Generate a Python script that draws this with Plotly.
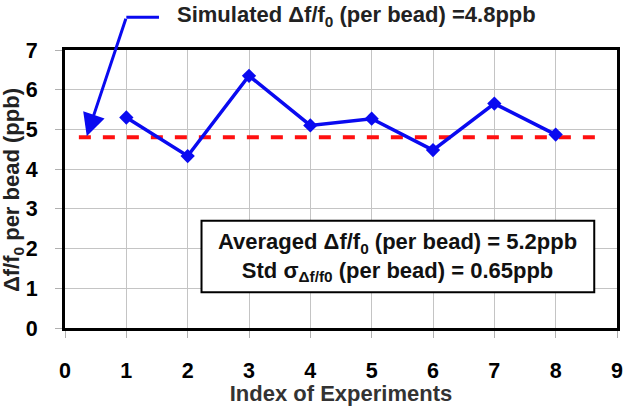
import plotly.graph_objects as go

experiments = [1, 2, 3, 4, 5, 6, 7, 8]
df_per_bead = [5.3, 4.33, 6.35, 5.1, 5.27, 4.48, 5.65, 4.87]
simulated = 4.8
sim_x = [0.226, 8.65]
x_ticks = list(range(0, 10))
y_ticks = list(range(0, 8))

FONT = "Arial, Liberation Sans, sans-serif"
BLUE = "#0a0af0"

# plot area geometry (pixels) used for paper-referenced annotations
L, R, T, B = 65, 6, 50, 76
PW, PH = 629 - L - R, 406 - T - B


def px(xp):
    return (xp - L) / PW


def py(yp):
    return (406 - B - yp) / PH


fig = go.Figure()
fig.add_trace(go.Scatter(
    x=sim_x, y=[simulated, simulated], mode="lines",
    line=dict(color="#ff1010", width=4, dash="dash"),
    hoverinfo="skip", showlegend=False))
fig.add_trace(go.Scatter(
    x=experiments, y=df_per_bead, mode="lines+markers",
    line=dict(color=BLUE, width=3.5),
    marker=dict(symbol="diamond", size=11, color=BLUE),
    showlegend=False))

axis_common = dict(
    showgrid=True, gridcolor="#c4c4c4", gridwidth=1,
    showline=True, linecolor="black", linewidth=3, mirror=True,
    ticks="outside", ticklen=7, tickcolor="#b0b0b0", tickwidth=1,
    zeroline=False,
    tickfont=dict(family=FONT, size=21.5, color="black", weight="bold"),
)

fig.update_layout(
    width=629, height=406,
    margin=dict(l=L, r=R, t=T, b=B),
    paper_bgcolor="white", plot_bgcolor="white",
    xaxis=dict(range=[0, 9], tickvals=x_ticks, ticklabelstandoff=14,
               title=dict(text="Index of Experiments", standoff=2,
                          font=dict(family=FONT, size=22, color="#333333", weight="bold")),
               **axis_common),
    yaxis=dict(range=[0, 7], tickvals=y_ticks, ticklabelstandoff=13,
               **axis_common),
)

# y-axis title placed explicitly
fig.add_annotation(x=px(12.5), y=py(191), xref="paper", yref="paper",
                   xanchor="center", yanchor="middle", showarrow=False,
                   textangle=-90, text="Δf/f<sub>0</sub> per bead (ppb)",
                   font=dict(family=FONT, size=22, color="#222222", weight="bold"))

# arrow from callout to simulated line
fig.add_annotation(x=0.355, y=4.83, xref="x", yref="y",
                   ax=1.0, ay=7.825, axref="x", ayref="y",
                   text="", showarrow=True, arrowhead=2, arrowsize=1.5,
                   arrowwidth=3, arrowcolor=BLUE, standoff=0)
fig.add_shape(type="line", xref="paper", yref="paper",
              x0=px(127), x1=px(160), y0=py(17), y1=py(17),
              line=dict(color=BLUE, width=3))
fig.add_annotation(x=px(176), y=py(16), xref="paper", yref="paper",
                   xanchor="left", yanchor="middle", showarrow=False,
                   text="Simulated Δf/f<sub>0</sub> (per bead) =4.8ppb",
                   font=dict(family=FONT, size=22, color="#222222", weight="bold"))

# results box
fig.add_shape(type="rect", xref="paper", yref="paper",
              x0=px(203), x1=px(600), y0=py(294), y1=py(222),
              fillcolor="white", line=dict(color="black", width=2), layer="above")
fig.add_annotation(x=px(401), y=py(258), xref="paper", yref="paper",
                   xanchor="center", yanchor="middle", showarrow=False,
                   text="Averaged Δf/f<sub>0</sub> (per bead) = 5.2ppb<br>Std σ<sub>Δf/f0</sub> (per bead) = 0.65ppb",
                   align="center",
                   font=dict(family=FONT, size=22, color="#111111", weight="bold"))

fig.write_html("out.html")
